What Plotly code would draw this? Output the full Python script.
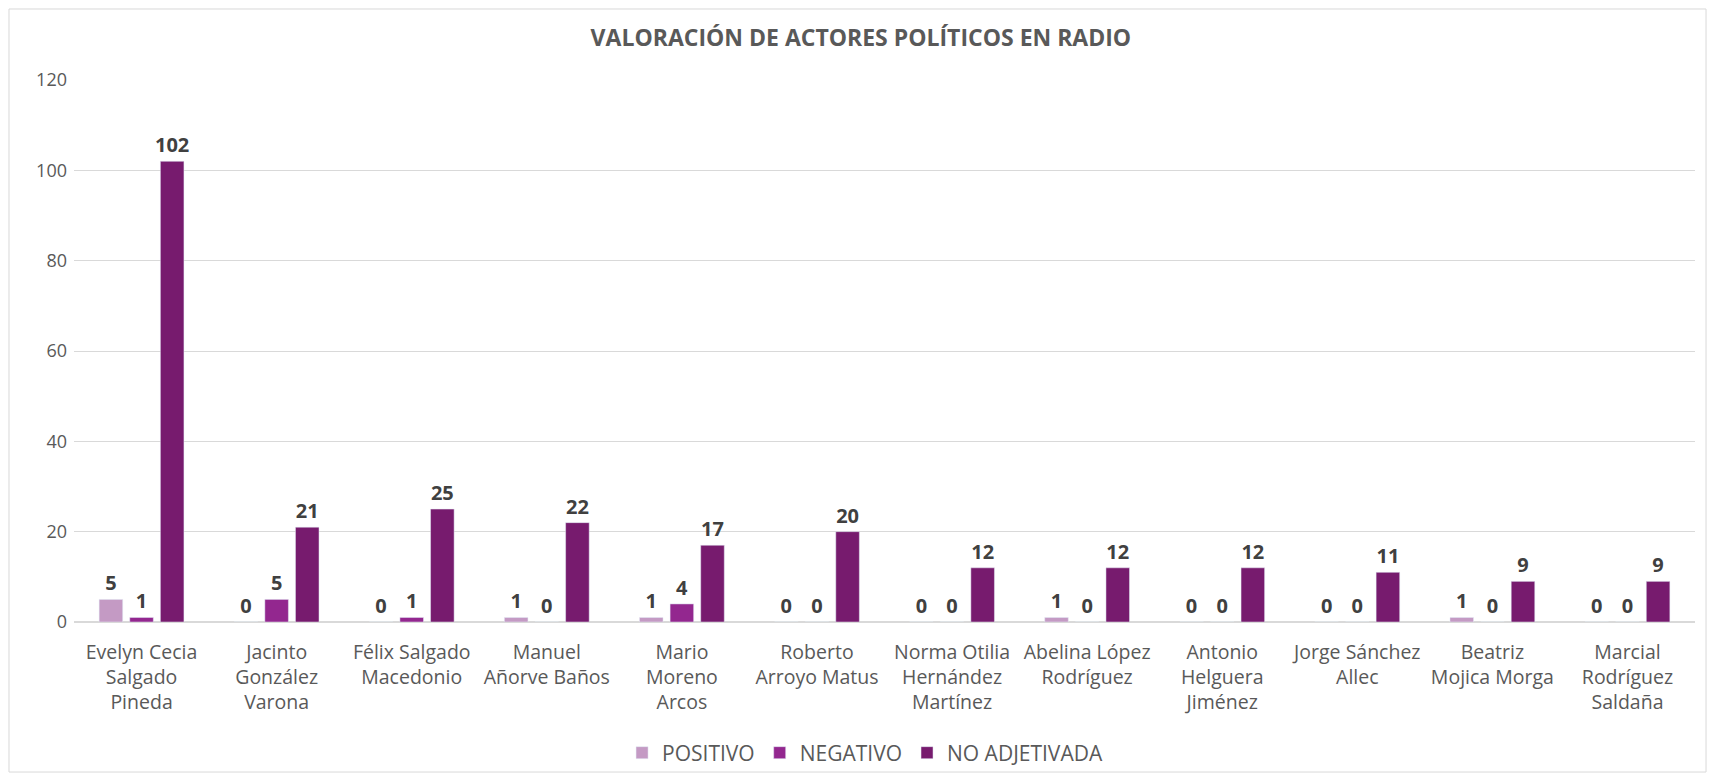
import plotly.graph_objects as go

actores = ["Evelyn Cecia<br>Salgado<br>Pineda", "Jacinto<br>González<br>Varona",
           "Félix Salgado<br>Macedonio", "Manuel<br>Añorve Baños",
           "Mario<br>Moreno<br>Arcos", "Roberto<br>Arroyo Matus",
           "Norma Otilia<br>Hernández<br>Martínez", "Abelina López<br>Rodríguez",
           "Antonio<br>Helguera<br>Jiménez", "Jorge Sánchez<br>Allec",
           "Beatriz<br>Mojica Morga", "Marcial<br>Rodríguez<br>Saldaña"]
positivo = [5, 0, 0, 1, 1, 0, 0, 1, 0, 0, 1, 0]
negativo = [1, 5, 1, 0, 4, 0, 0, 0, 0, 0, 0, 0]
no_adjetivada = [102, 21, 25, 22, 17, 20, 12, 12, 12, 11, 9, 9]

series = [("POSITIVO", positivo, "#C49AC4"),
          ("NEGATIVO", negativo, "#93278F"),
          ("NO ADJETIVADA", no_adjetivada, "#771B6E")]

fig = go.Figure()
for nombre, vals, color in series:
    fig.add_trace(go.Bar(x=actores, y=vals, name=nombre,
                         marker=dict(color=color),
                         text=vals, textposition="outside", cliponaxis=False,
                         constraintext="none",
                         textfont=dict(family="Open Sans", size=20, color="#404040",
                                       weight="bold")))

# the page body has an 8px margin: figure is made 16px smaller so nothing overflows
fig.update_layout(
    width=1699, height=765,
    paper_bgcolor="white", plot_bgcolor="white",
    margin=dict(l=66, r=12, t=72, b=151),
    barmode="group", bargap=0.32, bargroupgap=0.23,
    font=dict(family="Open Sans", color="#595959", size=18),
    title=dict(text="<b>VALORACIÓN DE ACTORES POLÍTICOS EN RADIO</b>",
               x=0.502, xanchor="center", y=1 - 30 / 765, yanchor="middle",
               font=dict(size=23, color="#595959")),
    yaxis=dict(range=[0, 120], dtick=20, gridcolor="#D9D9D9", gridwidth=1,
               zeroline=True, zerolinecolor="#D9D9D9", ticks="", ticklabelstandoff=6,
               tickfont=dict(size=18), automargin=False),
    xaxis=dict(showline=False, ticks="", tickfont=dict(size=19.5), tickangle=0,
               ticklabelstandoff=16, automargin=False),
    legend=dict(orientation="h", x=0.488, xanchor="center",
                yref="container", y=1 - 745 / 765, yanchor="middle",
                bgcolor="rgba(0,0,0,0)",
                font=dict(size=21), traceorder="normal"),
    shapes=[dict(type="rect", xref="paper", yref="paper",
                 x0=-0.0401, x1=1.0068, y0=-0.2768, y1=1.131,
                 line=dict(color="#D9D9D9", width=1))],
)

fig.write_html("out.html")
